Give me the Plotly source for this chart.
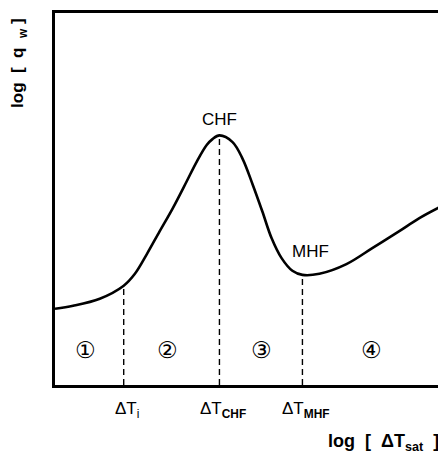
import plotly.graph_objects as go

# Boiling curve (arbitrary log units, x 0..10, y 0..10)
curve_x = [0.0, 0.47, 1.16, 1.78, 2.07, 2.38, 2.71, 3.05, 3.41, 3.67, 3.93, 4.08, 4.26,
           4.60, 4.86, 5.12, 5.37, 5.61, 5.87, 6.15, 6.41, 6.85, 7.55, 8.22, 8.91, 9.43, 10.0]
curve_y = [2.05, 2.13, 2.32, 2.67, 2.99, 3.52, 4.13, 4.75, 5.47, 6.00, 6.45, 6.61, 6.71,
           6.53, 6.08, 5.39, 4.67, 3.95, 3.41, 3.07, 2.96, 2.99, 3.25, 3.68, 4.13, 4.48, 4.80]

# Regime boundaries: ΔT_i, ΔT_CHF, ΔT_MHF and curve height there
bound_x = [1.78, 4.26, 6.41]
bound_y = [2.67, 6.71, 2.96]
bound_labels = ["ΔT<sub>i</sub>", "ΔT<sub><b>CHF</b></sub>", "ΔT<sub><b>MHF</b></sub>"]

# Regime numbers
region_x = [0.80, 2.92, 5.35, 8.20]
region_y = [0.93, 0.93, 0.93, 0.93]
region_labels = ["①", "②", "③", "④"]

font = "Liberation Sans, Arial, sans-serif"

fig = go.Figure()
fig.add_trace(go.Scatter(x=curve_x, y=curve_y, mode="lines",
                         line=dict(color="black", width=2.6, shape="spline", smoothing=1.0),
                         hoverinfo="skip", showlegend=False))
for bx, by in zip(bound_x, bound_y):
    fig.add_trace(go.Scatter(x=[bx, bx], y=[0, by], mode="lines",
                             line=dict(color="black", width=1.4, dash="6px,4px"),
                             hoverinfo="skip", showlegend=False))

for rx, ry, rl in zip(region_x, region_y, region_labels):
    fig.add_annotation(x=rx, y=ry, text=rl, showarrow=False,
                       font=dict(family="DejaVu Sans", size=23, color="black"))

for bx, bl in zip(bound_x, bound_labels):
    fig.add_annotation(x=bx + 0.08, xref="x", y=-0.067, yref="paper", text=bl, showarrow=False,
                       xanchor="center", yanchor="middle",
                       font=dict(family=font, size=17, color="black"))

fig.add_annotation(x=bound_x[1], y=bound_y[1] + 0.42, text="CHF", showarrow=False,
                   font=dict(family=font, size=17, color="black"))
fig.add_annotation(x=bound_x[2] + 0.22, y=bound_y[2] + 0.62, text="MHF", showarrow=False,
                   font=dict(family=font, size=17, color="black"))

fig.add_annotation(xref="paper", yref="paper", x=1.0, y=-0.155,
                   xanchor="right", yanchor="middle",
                   text="<b>log  [  ΔT<sub>sat</sub>  ]</b>", showarrow=False,
                   font=dict(family=font, size=18, color="black"))
fig.add_annotation(xref="paper", yref="paper", x=-0.092, y=0.867,
                   xanchor="center", yanchor="middle",
                   text="<b>log  [  q  <sub>w</sub> ]</b>", showarrow=False, textangle=-90,
                   font=dict(family=font, size=17, color="black"))

fig.update_layout(
    width=438, height=447,
    margin=dict(l=47, r=4, t=2, b=70),
    plot_bgcolor="white", paper_bgcolor="white",
    xaxis=dict(range=[0, 10], showgrid=False, zeroline=False, showticklabels=False,
               ticks="", showline=True, linecolor="black", linewidth=3, mirror=True),
    yaxis=dict(range=[0, 10], showgrid=False, zeroline=False, showticklabels=False,
               ticks="", showline=True, linecolor="black", linewidth=3, mirror=True),
)

fig.write_html("out.html")
